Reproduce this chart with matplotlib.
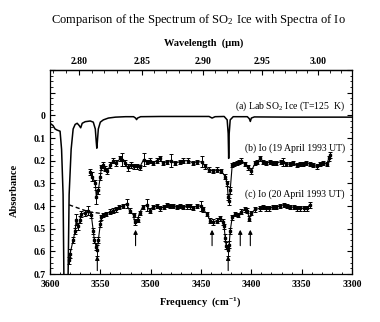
import matplotlib
matplotlib.use("Agg")
import matplotlib.pyplot as plt
from matplotlib.ticker import MultipleLocator, FixedLocator, FuncFormatter

plt.rcParams["font.family"] = ["Liberation Serif", "DejaVu Serif"]
plt.rcParams["mathtext.fontset"] = "stix"

# (a) lab SO2 ice spectrum
lab_freq = [3600, 3597, 3595, 3593, 3590, 3588.5, 3587, 3586, 3585, 3583, 3582, 3581,
            3579, 3577, 3575, 3573, 3571, 3569.5, 3568, 3565, 3560, 3557, 3555, 3554,
            3553.5, 3553, 3552, 3550, 3547, 3542, 3535, 3525, 3517, 3515, 3514, 3513,
            3510, 3490, 3460, 3442, 3439, 3436, 3427, 3424, 3423, 3422.5, 3422, 3421,
            3418, 3404, 3402, 3401, 3400, 3397, 3360, 3300]
lab_abs = [0.035, 0.045, 0.06, 0.065, 0.07, 0.15, 0.35, 0.8, 1.4, 1.4, 0.7, 0.35,
           0.15, 0.06, 0.04, 0.035, 0.045, 0.055, 0.035, 0.028, 0.025, 0.03, 0.06, 0.12,
           0.145, 0.12, 0.06, 0.03, 0.02, 0.012, 0.008, 0.006, 0.006, 0.012, 0.019, 0.012,
           0.006, 0.005, 0.005, 0.005, 0.012, 0.006, 0.005, 0.02, 0.08, 0.19, 0.08, 0.02,
           0.006, 0.006, 0.015, 0.027, 0.012, 0.007, 0.008, 0.008]

# (b) Io, 19 April 1993
b_freq = [3560, 3558, 3555, 3554, 3552, 3550, 3549, 3547, 3545, 3543,
          3540, 3537, 3534, 3530, 3528, 3525, 3523, 3520, 3517, 3514,
          3511, 3507, 3504, 3501, 3498, 3494, 3491, 3488, 3484, 3480,
          3476, 3471, 3468, 3463, 3458, 3454, 3449, 3446, 3442, 3438,
          3434, 3430, 3426, 3424, 3423, 3422, 3421, 3419, 3417, 3414,
          3412, 3410, 3406, 3403, 3400, 3396, 3394, 3391, 3388, 3385,
          3381, 3378, 3375, 3371, 3369, 3366, 3362, 3359, 3355, 3352,
          3349, 3346, 3342, 3339, 3335, 3332, 3329, 3325, 3323, 3322]
b_abs = [0.25, 0.27, 0.30, 0.36, 0.33, 0.27, 0.23, 0.22, 0.235, 0.245,
         0.22, 0.20, 0.21, 0.19, 0.195, 0.21, 0.23, 0.22, 0.225, 0.225,
         0.23, 0.195, 0.205, 0.20, 0.21, 0.20, 0.19, 0.21, 0.205, 0.20,
         0.21, 0.205, 0.20, 0.20, 0.21, 0.205, 0.205, 0.225, 0.24, 0.245,
         0.24, 0.245, 0.27, 0.30, 0.36, 0.38, 0.33, 0.22, 0.215, 0.21,
         0.205, 0.20, 0.215, 0.23, 0.245, 0.21, 0.205, 0.19, 0.205, 0.21,
         0.205, 0.21, 0.21, 0.205, 0.205, 0.215, 0.215, 0.21, 0.22, 0.215,
         0.215, 0.21, 0.215, 0.22, 0.225, 0.215, 0.21, 0.215, 0.19, 0.175]
b_err = [0.015, 0.02, 0.015, 0.03, 0.015, 0.015, 0.012, 0.012, 0.012, 0.012,
         0.012, 0.012, 0.012, 0.012, 0.03, 0.012, 0.015, 0.012, 0.01, 0.01,
         0.01, 0.03, 0.01, 0.01, 0.01, 0.01, 0.012, 0.01, 0.01, 0.03,
         0.01, 0.01, 0.01, 0.01, 0.01, 0.01, 0.025, 0.01, 0.01, 0.01,
         0.01, 0.01, 0.012, 0.012, 0.015, 0.015, 0.015, 0.01, 0.01, 0.01,
         0.01, 0.01, 0.01, 0.01, 0.012, 0.01, 0.01, 0.01, 0.01, 0.01,
         0.01, 0.01, 0.01, 0.01, 0.018, 0.01, 0.01, 0.01, 0.01, 0.01,
         0.01, 0.01, 0.01, 0.01, 0.01, 0.01, 0.01, 0.01, 0.012, 0.012]

# (c) Io, 20 April 1993
c_freq = [3581, 3580, 3577, 3575, 3574, 3572, 3570, 3569, 3565, 3562,
          3559, 3557, 3556, 3554, 3553, 3552, 3550, 3549, 3547, 3544,
          3540, 3537, 3534, 3531, 3527, 3524, 3521, 3517, 3516, 3513,
          3511, 3508, 3504, 3501, 3498, 3494, 3491, 3487, 3484, 3481,
          3478, 3474, 3471, 3468, 3464, 3461, 3458, 3454, 3450, 3448,
          3444, 3441, 3438, 3434, 3431, 3428, 3427, 3426, 3425, 3423,
          3422, 3421, 3419, 3416, 3413, 3410, 3406, 3404, 3402, 3400,
          3396, 3391, 3388, 3385, 3382, 3378, 3375, 3372, 3368, 3365,
          3362, 3358, 3355, 3352, 3348, 3345, 3342]
c_abs = [0.64, 0.61, 0.55, 0.51, 0.46, 0.49, 0.46, 0.435, 0.43, 0.42,
         0.44, 0.51, 0.55, 0.58, 0.595, 0.55, 0.48, 0.45, 0.44, 0.435,
         0.425, 0.42, 0.415, 0.405, 0.40, 0.39, 0.42, 0.44, 0.47, 0.46,
         0.43, 0.405, 0.395, 0.42, 0.405, 0.40, 0.41, 0.405, 0.395, 0.40,
         0.40, 0.405, 0.40, 0.405, 0.402, 0.402, 0.408, 0.40, 0.40, 0.415,
         0.435, 0.465, 0.47, 0.465, 0.455, 0.47, 0.49, 0.54, 0.575, 0.595,
         0.57, 0.51, 0.45, 0.435, 0.44, 0.425, 0.415, 0.42, 0.456, 0.43,
         0.415, 0.41, 0.405, 0.41, 0.41, 0.405, 0.405, 0.40, 0.395, 0.40,
         0.405, 0.405, 0.41, 0.41, 0.41, 0.41, 0.395]
c_err = [0.015, 0.02, 0.015, 0.015, 0.025, 0.015, 0.015, 0.012, 0.012, 0.02,
         0.012, 0.015, 0.015, 0.015, 0.025, 0.015, 0.012, 0.012, 0.01, 0.01,
         0.01, 0.01, 0.01, 0.01, 0.01, 0.02, 0.01, 0.01, 0.012, 0.012,
         0.01, 0.01, 0.025, 0.01, 0.01, 0.01, 0.01, 0.01, 0.01, 0.01,
         0.01, 0.01, 0.01, 0.01, 0.01, 0.01, 0.01, 0.01, 0.02, 0.01,
         0.01, 0.012, 0.012, 0.01, 0.01, 0.012, 0.012, 0.015, 0.015, 0.025,
         0.015, 0.015, 0.01, 0.01, 0.01, 0.01, 0.01, 0.01, 0.012, 0.01,
         0.01, 0.01, 0.01, 0.01, 0.01, 0.01, 0.01, 0.01, 0.01, 0.01,
         0.01, 0.01, 0.01, 0.01, 0.01, 0.01, 0.012]

# dashed continuum under the 3550 band of (c)
cont_freq = [3581, 3562, 3546]
cont_abs = [0.395, 0.425, 0.435]

# arrows marking bands
arrow_freq = [3553, 3515, 3439, 3423, 3411, 3401]
arrow_tail = [0.685, 0.575, 0.575, 0.685, 0.575, 0.575]
arrow_head = [0.62, 0.505, 0.505, 0.62, 0.505, 0.505]

labels = ["(a) Lab SO$_{\\mathregular{2}}$ Ice (T=125  K)",
          "(b) Io (19 April 1993 UT)",
          "(c) Io (20 April 1993 UT)"]
label_y = [-0.04, 0.146, 0.35]

fig = plt.figure(figsize=(3.8, 3.22), dpi=100)
ax = fig.add_axes([50 / 380, 1 - 274 / 322, 302 / 380, 204 / 322])

ax.plot(lab_freq, lab_abs, color="black", lw=1.1)
ax.errorbar(b_freq, b_abs, yerr=b_err, fmt="s-", color="black", ms=1.8, lw=0.8,
            elinewidth=0.7, capsize=1.3, capthick=0.7)
ax.errorbar(c_freq, c_abs, yerr=c_err, fmt="s-", color="black", ms=1.8, lw=0.8,
            elinewidth=0.7, capsize=1.3, capthick=0.7)
ax.plot(cont_freq, cont_abs, color="black", lw=1.0, ls=(0, (3, 2)))

for f, t, h in zip(arrow_freq, arrow_tail, arrow_head):
    ax.annotate("", xy=(f, h), xytext=(f, t),
                arrowprops=dict(arrowstyle="-|>", color="black", lw=0.8,
                                mutation_scale=6, shrinkA=0, shrinkB=0))

for txt, y in zip(labels, label_y):
    ax.text(3307, y, txt, ha="right", va="center", fontsize=7)

ax.set_xlim(3600, 3300)
ax.set_ylim(0.7, -0.2)

ax.xaxis.set_major_locator(MultipleLocator(50))
ax.xaxis.set_minor_locator(MultipleLocator(10))
ax.yaxis.set_major_locator(FixedLocator([-0.2, -0.1, 0, 0.1, 0.2, 0.3, 0.4, 0.5, 0.6, 0.7]))
ax.yaxis.set_minor_locator(MultipleLocator(0.025))


def yfmt(v, pos):
    if v < -0.01:
        return ""
    if abs(v) < 0.01:
        return "0"
    return f"{v:.1f}"


ax.yaxis.set_major_formatter(FuncFormatter(yfmt))
ax.tick_params(which="both", direction="in", right=True, top=False,
               labelsize=7)
ax.tick_params(which="major", length=3.5, width=0.8)
ax.tick_params(which="minor", length=1.8, width=0.6)
ax.tick_params(axis="x", pad=4)
ax.tick_params(axis="y", pad=3)
for lab in ax.get_xticklabels() + ax.get_yticklabels():
    lab.set_fontweight("bold")
for sp in ax.spines.values():
    sp.set_linewidth(0.9)

secax = ax.secondary_xaxis("top", functions=(lambda f: 1e4 / f, lambda w: 1e4 / w))
secax.xaxis.set_major_locator(FixedLocator([2.80, 2.85, 2.90, 2.95, 3.00]))
secax.xaxis.set_minor_locator(MultipleLocator(0.01))
secax.xaxis.set_major_formatter(FuncFormatter(lambda v, p: f"{v:.2f}"))
secax.tick_params(which="both", direction="in", labelsize=7, pad=3)
secax.tick_params(which="major", length=3.5, width=0.8)
secax.tick_params(which="minor", length=1.8, width=0.6)
for lab in secax.get_xticklabels():
    lab.set_fontweight("bold")
secax.spines["top"].set_linewidth(0.9)

fig.text(0.522, 1 - 20 / 322, "Comparison of the Spectrum of SO$_{\\mathregular{2}}$ Ice with Spectra of Io",
         ha="center", va="center", fontsize=9)
fig.text(204 / 380, 1 - 43 / 322, "Wavelength  (\u00b5m)", ha="center", va="center",
         fontsize=7.5, fontweight="bold")
fig.text(200 / 380, 1 - 303 / 322, "Frequency  (cm$^{\\mathregular{-1}}$)", ha="center",
         va="center", fontsize=7.5, fontweight="bold")
fig.text(14 / 380, 1 - 190 / 322, "Absorbance", ha="center", va="center", rotation=90,
         fontsize=7.5, fontweight="bold")

fig.savefig("out.png", dpi=100)
